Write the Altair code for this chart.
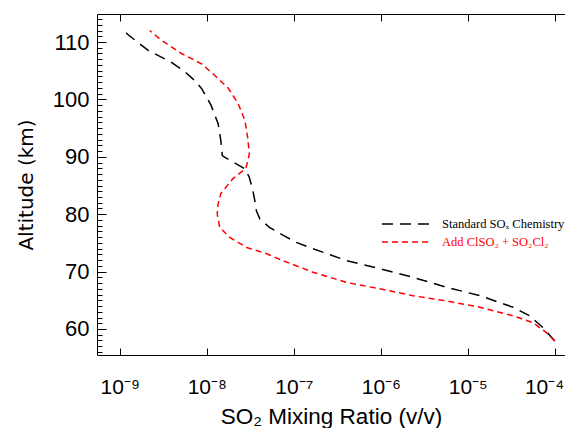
import altair as alt
import pandas as pd

series_names = ["Standard SOₓ Chemistry", "Add ClSO₂ + SO₂Cl₂"]

std_alt = [112.2, 111.3, 108.5, 106.5, 104.8, 103.3, 101.9, 99.0, 95.8, 92.9, 90.2,
           89.9, 87.9, 86.4, 84.1, 81.8, 80.6, 79.2, 77.7, 76.3, 75.1, 74.0, 71.9,
           70.5, 69.0, 67.3, 65.8, 63.8, 62.3, 60.3, 57.9]
std_so2 = [1.10e-9, 1.24e-9, 2.14e-9, 3.89e-9, 5.62e-9, 7.24e-9, 8.71e-9, 1.12e-8,
           1.35e-8, 1.45e-8, 1.51e-8, 1.62e-8, 2.75e-8, 3.09e-8, 3.39e-8, 3.63e-8,
           3.72e-8, 4.07e-8, 5.25e-8, 7.59e-8, 1.07e-7, 1.66e-7, 4.07e-7, 9.77e-7,
           2.34e-6, 5.62e-6, 1.38e-5, 3.31e-5, 5.13e-5, 7.24e-5, 1.0e-4]

cl_alt = [112.0, 110.3, 108.0, 106.2, 104.2, 101.9, 99.3, 96.3, 93.4, 90.5, 88.0,
          86.2, 83.6, 81.8, 80.0, 77.7, 76.0, 74.2, 73.1, 72.0, 69.9, 68.1, 67.0,
          65.8, 64.9, 63.8, 62.3, 61.1, 59.4, 57.9]
cl_so2 = [2.21e-9, 3.02e-9, 5.13e-9, 8.71e-9, 1.23e-8, 1.78e-8, 2.29e-8, 2.75e-8,
          2.95e-8, 3.09e-8, 2.82e-8, 2.00e-8, 1.45e-8, 1.35e-8, 1.32e-8, 1.41e-8,
          1.82e-8, 2.88e-8, 4.90e-8, 7.24e-8, 1.66e-7, 4.07e-7, 9.77e-7, 2.34e-6,
          5.62e-6, 1.38e-5, 3.31e-5, 5.62e-5, 7.94e-5, 1.0e-4]

x_tick_values = [1e-9, 1e-8, 1e-7, 1e-6, 1e-5, 1e-4]
x_tick_labels = ["10⁻⁹", "10⁻⁸", "10⁻⁷", "10⁻⁶", "10⁻⁵", "10⁻⁴"]
y_tick_values = list(range(56, 115))

rows = []
for a, v in zip(std_alt, std_so2):
    rows.append({"series": series_names[0], "alt": a, "so2": v})
for a, v in zip(cl_alt, cl_so2):
    rows.append({"series": series_names[1], "alt": a, "so2": v})
df = pd.DataFrame(rows)
ticks_df = pd.DataFrame({"so2": x_tick_values})

x_label_expr = "[" + ",".join(f"'{l}'" for l in x_tick_labels) + "][round(log(datum.value)/LN10) + 9]"

x_scale = alt.Scale(type="log", domain=[5.48e-10, 1.31e-4], nice=False)
y_scale = alt.Scale(domain=[55.47, 114.88], nice=False, zero=False)
color_scale = alt.Scale(domain=series_names, range=["black", "red"])
dash_scale = alt.Scale(domain=series_names, range=[[11, 7], [6, 4]])

legend = alt.Legend(
    orient="none", legendX=302, legendY=203, title=None,
    symbolType="M-4,0H4", symbolSize=144, symbolStrokeWidth=1.5,
    labelFont="Liberation Serif", labelFontSize=12.5, labelOffset=29,
    labelColor=alt.ExprRef(f"datum.value == '{series_names[0]}' ? 'black' : 'red'"),
    padding=0, rowPadding=4, labelLimit=300,
)

lines = alt.Chart(df).mark_line(strokeWidth=1.5, clip=True).encode(
    x=alt.X("so2:Q", scale=x_scale, axis=alt.Axis(
        values=x_tick_values, labelExpr=x_label_expr,
        tickSize=alt.ExprRef("-7"), labelPadding=28,
        labelFlush=15, labelFlushOffset=9,
        labelFont="Liberation Sans", labelFontSize=21,
        title="SO₂ Mixing Ratio (v/v)", titleFont="Liberation Sans", titleFontSize=22.5,
        titleFontWeight="normal", titleY=68, titleBaseline="alphabetic",
    )),
    y=alt.Y("alt:Q", scale=y_scale, axis=alt.Axis(
        values=y_tick_values,
        labelExpr="datum.value % 10 == 0 ? datum.label : ''",
        tickSize=alt.ExprRef("datum.value % 10 == 0 ? -9 : -5"),
        labelPadding=17, labelOverlap=False,
        labelFont="Liberation Sans", labelFontSize=22,
        title="Altitude (km)", titleFont="DejaVu Sans", titleFontSize=20,
        titleFontWeight="normal", titleX=-65, titleBaseline="alphabetic",
    )),
    stroke=alt.Stroke("series:N", scale=color_scale, legend=legend),
    strokeDash=alt.StrokeDash("series:N", scale=dash_scale, legend=legend),
    order="alt:Q",
)

top = alt.Chart(ticks_df).mark_rule(strokeOpacity=0).encode(
    x=alt.X("so2:Q", scale=x_scale, axis=alt.Axis(
        orient="top", values=x_tick_values, labels=False,
        tickSize=alt.ExprRef("-7"), title=None,
    )),
)

chart = alt.layer(lines, top).resolve_axis(x="independent").properties(
    width=468, height=341,
    autosize=alt.AutoSizeParams(type="none"),
    padding={"left": 89, "top": 6, "right": 0, "bottom": 73},
).configure_axis(
    domainColor="black", tickColor="black", labelColor="black", titleColor="black",
    grid=False, domainWidth=1, tickWidth=1,
).configure_view(stroke=None)

chart.save("out.html", embed_options={"renderer": "svg", "actions": False})
